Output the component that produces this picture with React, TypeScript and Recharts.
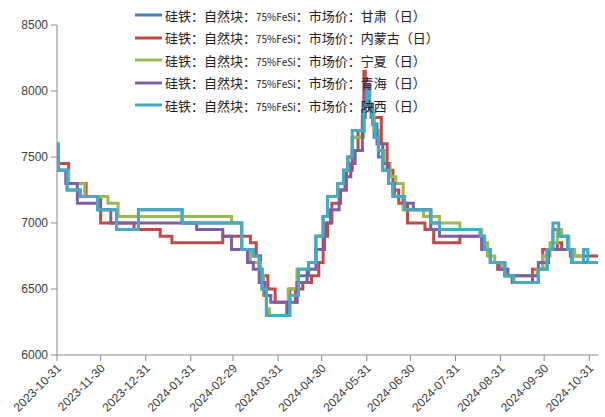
import { LineChart, Line, XAxis, YAxis } from 'recharts';

// days counted from 2023-10-31
const tickDays = [0, 30, 61, 92, 121, 152, 182, 213, 243, 274, 305, 335, 366];
const tickLabels = [
  '2023-10-31', '2023-11-30', '2023-12-31', '2024-01-31', '2024-02-29', '2024-03-31', '2024-04-30',
  '2024-05-31', '2024-06-30', '2024-07-31', '2024-08-31', '2024-09-30', '2024-10-31',
];
const yTicks = [6000, 6500, 7000, 7500, 8000, 8500];

// [day, price] at each change of price
const gansu: [number, number][] = [
  [0, 7500], [1, 7400], [7, 7250], [16, 7200], [28, 7100], [41, 6950], [56, 7100], [86, 7000],
  [127, 6800], [136, 6750], [139, 6650], [141, 6500], [144, 6300], [160, 6450], [166, 6600],
  [173, 6700], [178, 6900], [183, 7050], [186, 7200], [193, 7300], [197, 7400], [200, 7500],
  [203, 7650], [210, 7850], [212, 8050], [214, 7900], [216, 7800], [218, 7650], [221, 7500],
  [224, 7400], [228, 7300], [231, 7200], [239, 7100], [257, 7000], [263, 6950], [291, 6900],
  [294, 6800], [298, 6700], [308, 6600], [314, 6550], [331, 6650], [337, 6800], [341, 6950],
  [346, 6900], [351, 6800], [354, 6700], [372, 6700],
];
const neimenggu: [number, number][] = [
  [0, 7450], [8, 7300], [20, 7200], [30, 7000], [53, 6950], [71, 6900], [79, 6850], [114, 6900],
  [133, 6850], [137, 6750], [140, 6600], [145, 6500], [150, 6400], [160, 6500], [164, 6400],
  [165, 6500], [169, 6550], [175, 6600], [180, 6700], [183, 6900], [186, 7000], [189, 7150],
  [195, 7250], [199, 7400], [203, 7550], [207, 7700], [211, 8150], [212, 7900], [217, 7800],
  [223, 7600], [227, 7400], [231, 7250], [235, 7150], [241, 7000], [253, 6950], [259, 6850],
  [277, 6900], [293, 6800], [298, 6700], [303, 6650], [308, 6600], [313, 6550], [327, 6650],
  [334, 6800], [344, 6850], [347, 6800], [353, 6750], [372, 6750],
];
const ningxia: [number, number][] = [
  [0, 7400], [8, 7300], [19, 7200], [35, 7150], [42, 7050], [120, 7000], [127, 6800], [133, 6700],
  [140, 6600], [142, 6450], [144, 6350], [146, 6300], [159, 6500], [165, 6650], [173, 6700],
  [178, 6900], [183, 7050], [186, 7200], [193, 7300], [197, 7400], [200, 7500], [203, 7650],
  [211, 7900], [213, 8000], [215, 7850], [218, 7700], [221, 7550], [225, 7450], [229, 7350],
  [233, 7300], [238, 7100], [252, 7050], [263, 7000], [277, 6950], [292, 6850], [296, 6750],
  [301, 6700], [306, 6650], [310, 6600], [330, 6650], [334, 6750], [339, 6850], [344, 6950],
  [347, 6900], [352, 6800], [356, 6750], [362, 6700], [372, 6700],
];
const qinghai: [number, number][] = [
  [0, 7400], [6, 7300], [14, 7150], [29, 7100], [37, 7000], [96, 6950], [114, 6900], [120, 6800],
  [131, 6700], [135, 6650], [139, 6550], [143, 6450], [147, 6400], [158, 6300], [160, 6400],
  [165, 6550], [172, 6650], [178, 6800], [184, 7000], [188, 7100], [194, 7250], [198, 7350],
  [202, 7450], [205, 7550], [210, 7800], [212, 8050], [214, 7900], [217, 7750], [220, 7600],
  [224, 7450], [228, 7300], [232, 7200], [238, 7150], [245, 7100], [257, 6950], [263, 6900],
  [292, 6800], [298, 6700], [304, 6650], [310, 6600], [331, 6700], [338, 6800], [354, 6700],
  [372, 6700],
];
const shaanxi: [number, number][] = [
  [0, 7600], [1, 7400], [7, 7250], [16, 7200], [28, 7100], [41, 6950], [56, 7100], [86, 7000],
  [127, 6800], [135, 6750], [139, 6650], [141, 6500], [144, 6300], [160, 6450], [166, 6650],
  [173, 6700], [178, 6900], [183, 7050], [186, 7200], [193, 7300], [197, 7400], [200, 7500],
  [203, 7700], [211, 7900], [213, 8000], [215, 7850], [217, 7750], [219, 7650], [221, 7550],
  [224, 7400], [228, 7300], [231, 7200], [239, 7100], [257, 7000], [263, 6950], [291, 6900],
  [294, 6800], [298, 6700], [308, 6600], [314, 6550], [331, 6650], [337, 6800], [341, 7000],
  [345, 6900], [351, 6800], [354, 6700], [362, 6800], [365, 6700], [372, 6700],
];

const series = [
  { name: '硅铁：自然块：75%FeSi：市场价：甘肃（日）', color: '#4a7ebb', points: gansu },
  { name: '硅铁：自然块：75%FeSi：市场价：内蒙古（日）', color: '#be4b48', points: neimenggu },
  { name: '硅铁：自然块：75%FeSi：市场价：宁夏（日）', color: '#98b954', points: ningxia },
  { name: '硅铁：自然块：75%FeSi：市场价：青海（日）', color: '#7d60a0', points: qinghai },
  { name: '硅铁：自然块：75%FeSi：市场价：陕西（日）', color: '#46aac5', points: shaanxi },
];

const axisColor = '#898989';
const labelColor = '#404040';

function DateTick({ x, y, payload }: any) {
  const label = tickLabels[tickDays.indexOf(payload.value)];
  const ax = x + 5;
  const ay = y + 6;
  return (
    <text x={ax} y={ay} textAnchor="end" transform={`rotate(-45 ${ax} ${ay})`}
      fontSize={12} fill={labelColor} fontFamily="'Liberation Sans', Arial, sans-serif">
      {label}
    </text>
  );
}

function LegendText({ text }: { text: string }) {
  // latin runs are drawn smaller, as in the source image
  const parts = text.split(/([0-9A-Za-z%]+)/);
  return (
    <span>
      {parts.map((p, i) =>
        /[0-9A-Za-z%]/.test(p) ? <span key={i} style={{ fontSize: 10 }}>{p}</span> : <span key={i}>{p}</span>
      )}
    </span>
  );
}

export default function App() {
  return (
    <div style={{ position: 'absolute', left: 0, top: 0, width: 605, height: 417, background: '#fff' }}>
      <LineChart width={605} height={417} margin={{ top: 25, right: 7, bottom: 7, left: 0 }}>
        <XAxis
          type="number"
          dataKey="d"
          domain={[0, 372]}
          ticks={tickDays}
          interval={0}
          height={55}
          stroke={axisColor}
          tickSize={6}
          tick={<DateTick />}
        />
        <YAxis
          type="number"
          domain={[6000, 8500]}
          ticks={yTicks}
          width={57}
          stroke={axisColor}
          tickSize={6}
          tickMargin={3}
          tick={{ fontSize: 12, fill: labelColor, fontFamily: "'Liberation Sans', Arial, sans-serif" }}
        />
        {series.map((s) => (
          <Line
            key={s.name}
            name={s.name}
            data={s.points.map(([d, v]) => ({ d, v }))}
            dataKey="v"
            type="stepAfter"
            stroke={s.color}
            strokeWidth={3}
            dot={false}
            isAnimationActive={false}
          />
        ))}
      </LineChart>
      <div style={{ position: 'absolute', left: 135, top: 4, fontFamily: "'Noto Sans CJK SC', sans-serif", fontSize: 13, color: '#222' }}>
        {series.map((s) => (
          <div key={s.name} style={{ height: 22.5, display: 'flex', alignItems: 'center' }}>
            <svg width={30} height={6} style={{ marginRight: 0 }}>
              <line x1={0} y1={3} x2={27} y2={3} stroke={s.color} strokeWidth={3} />
            </svg>
            <LegendText text={s.name} />
          </div>
        ))}
      </div>
    </div>
  );
}
